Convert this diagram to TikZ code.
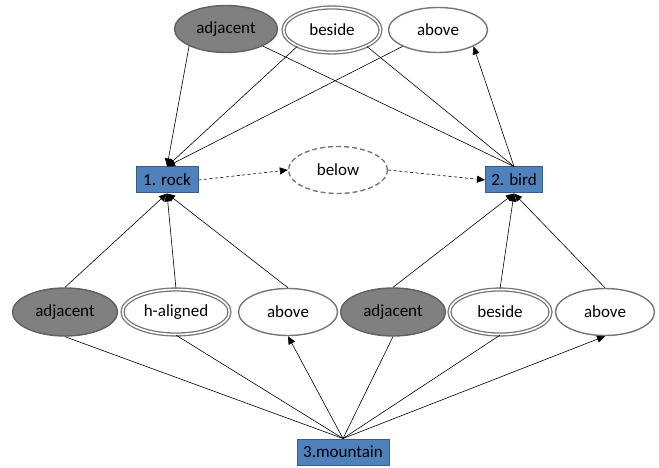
\documentclass[tikz,border=0pt]{standalone}
\usepackage{fontspec}
\setmainfont{Carlito}
\usetikzlibrary{shapes.geometric,arrows.meta}
\definecolor{boxfill}{HTML}{4F81BD}
\definecolor{boxline}{HTML}{385D8A}
\definecolor{ellline}{HTML}{767676}
\definecolor{darkfill}{HTML}{808080}
\definecolor{darkline}{HTML}{606060}
\tikzset{
  every node/.style={font=\fontsize{17}{20}\selectfont, inner sep=0pt},
  ell/.style={ellipse, draw=ellline, line width=1.4pt, fill=white},
  darkell/.style={ellipse, draw=darkline, line width=1.4pt, fill=darkfill},
  dblell/.style={ellipse, draw=ellline, line width=1.3pt, double=white, double distance=1.6pt},
  dashell/.style={ellipse, draw=ellline, line width=1.4pt, dash pattern=on 5pt off 3pt, fill=white},
  objbox/.style={rectangle, draw=boxline, line width=1pt, fill=boxfill},
  conn/.style={line width=0.6pt, black},
  arr/.style={conn, -{Triangle[length=8pt,width=7pt]}},
  darr/.style={arr, dash pattern=on 3pt off 2.5pt},
}
\begin{document}
\begin{tikzpicture}[x=1pt,y=-1pt]
\useasboundingbox (0,0) rectangle (659,468);
% top row
\node[darkell, minimum width=103pt, minimum height=47pt] (adjT) at (226,29) {adjacent};
\node[dblell, minimum width=97pt, minimum height=45pt] (besT) at (332,30) {beside};
\node[ell, minimum width=99pt, minimum height=45pt] (aboT) at (438,30) {above};
% middle
\node[objbox, minimum width=62pt, minimum height=26pt] (rock) at (167,180) {1. rock};
\node[objbox, minimum width=57pt, minimum height=26pt] (bird) at (514,180) {2. bird};
\node[dashell, minimum width=99pt, minimum height=47pt] (below) at (338,170) {below};
% bottom row
\node[darkell, minimum width=105pt, minimum height=48pt] (adjB1) at (65,312) {adjacent};
\node[dblell, minimum width=107pt, minimum height=45pt] (hal) at (176,312) {h-aligned};
\node[ell, minimum width=99pt, minimum height=47pt] (aboB1) at (288,312) {above};
\node[darkell, minimum width=105pt, minimum height=48pt] (adjB2) at (393,312) {adjacent};
\node[dblell, minimum width=101pt, minimum height=45pt] (besB2) at (500,312) {beside};
\node[ell, minimum width=99pt, minimum height=47pt] (aboB2) at (605,312) {above};
% mountain
\node[objbox, minimum width=92pt, minimum height=26pt] (mount) at (343,452) {3.mountain};
% top connectors
\draw[arr] (adjT.south west) -- (rock.north);
\draw[arr] (besT.south west) -- (rock.north);
\draw[arr] (aboT.south west) -- (rock.north);
\draw[conn] (adjT.south east) -- (bird.north);
\draw[conn] (besT.south east) -- (bird.north);
\draw[arr] (bird.north) -- (aboT.south east);
% dashed
\draw[darr] (rock.east) -- (below.west);
\draw[darr] (below.east) -- (bird.west);
% bottom to objects
\draw[arr] (adjB1.north) -- (rock.south);
\draw[arr] (hal.north) -- (rock.south);
\draw[arr] (aboB1.north) -- (rock.south);
\draw[arr] (adjB2.north) -- (bird.south);
\draw[arr] (besB2.north) -- (bird.south);
\draw[arr] (aboB2.north) -- (bird.south);
% mountain
\draw[conn] (mount.north) -- (adjB1.south);
\draw[conn] (mount.north) -- (hal.south);
\draw[arr] (mount.north) -- (aboB1.south);
\draw[conn] (mount.north) -- (adjB2.south);
\draw[conn] (mount.north) -- (besB2.south);
\draw[arr] (mount.north) -- (aboB2.south);
\end{tikzpicture}
\end{document}
